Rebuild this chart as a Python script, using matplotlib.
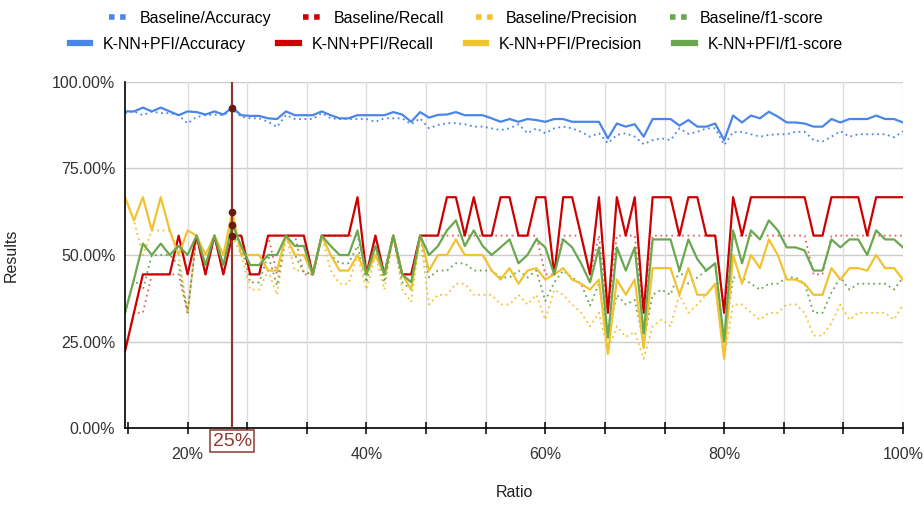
import numpy as np
import matplotlib
matplotlib.use("Agg")
import matplotlib.pyplot as plt
from matplotlib.lines import Line2D
from matplotlib.transforms import blended_transform_factory

plt.rcParams['font.family'] = ['Liberation Sans', 'DejaVu Sans']

# ratio (%) of the x axis
ratio = list(range(13, 101))

# K-NN+PFI results (%)
knn_accuracy = [91.5, 91.5, 92.6, 91.5, 92.6, 91.5, 90.4, 91.5, 91.3, 90.6, 91.5, 90.6, 92.6, 90.4, 90.2,
                90.2, 89.5, 89.3, 91.5, 90.4, 90.4, 90.4, 91.5, 90.4, 89.5, 89.5, 90.4, 90.4, 90.4,
                90.4, 91.3, 90.6, 88.5, 91.3, 89.7, 90.5, 90.6, 91.3, 90.4, 90.4, 90.4, 89.5, 88.5, 89.3,
                88.5, 89.3, 89.0, 88.5, 89.3, 89.3, 88.5, 88.5, 88.5, 88.5, 83.7, 88.0, 87.1, 87.8, 84.2,
                89.3, 89.3, 89.3, 87.4, 89.0, 87.1, 87.1, 88.0, 83.2, 90.3, 88.3, 90.3, 89.5, 91.4,
                90.0, 88.3, 88.3, 88.0, 87.1, 87.1, 89.3, 88.3, 89.3, 89.3, 89.3, 90.3, 89.3, 89.3, 88.3]
knn_recall = [22.2, 33.3, 44.4, 44.4, 44.4, 44.4, 55.6, 44.4, 55.6, 44.4, 55.6, 44.4, 55.6, 55.6, 44.4,
              44.4, 55.6, 55.6, 55.6, 55.6, 55.6, 44.4, 55.6, 55.6, 55.6, 55.6, 66.7, 44.4, 55.6,
              44.4, 55.6, 44.4, 44.4, 55.6, 55.6, 55.6, 66.7, 66.7, 55.6, 66.7, 55.6, 55.6, 66.7, 66.7,
              55.6, 55.6, 66.7, 66.7, 44.4, 66.7, 66.7, 55.6, 44.4, 66.7, 33.3, 66.7, 55.6, 66.7, 33.3,
              66.7, 66.7, 66.7, 55.6, 66.7, 66.7, 55.6, 55.6, 33.3, 66.7, 55.6, 66.7, 66.7, 66.7,
              66.7, 66.7, 66.7, 66.7, 55.6, 55.6, 66.7, 66.7, 66.7, 66.7, 55.6, 66.7, 66.7, 66.7, 66.7]
knn_precision = [66.7, 60.0, 66.7, 57.1, 66.7, 57.1, 50.0, 57.1, 55.6, 50.0, 55.6, 50.0, 62.5, 50.0, 50.0,
                 50.0, 45.5, 45.5, 55.6, 50.0, 50.0, 44.4, 55.6, 50.0, 45.5, 45.5, 50.0, 44.4, 50.0,
                 44.4, 55.6, 44.4, 40.0, 55.6, 45.5, 50.0, 50.0, 54.5, 50.0, 50.0, 50.0, 45.5, 42.9, 46.2,
                 41.7, 45.5, 46.2, 42.9, 44.4, 46.2, 42.9, 41.7, 40.0, 42.9, 21.4, 42.9, 38.5, 42.9, 23.1,
                 46.2, 46.2, 46.2, 38.5, 46.2, 38.5, 38.5, 41.7, 20.0, 50.0, 41.7, 50.0, 46.2, 54.5,
                 50.0, 42.9, 42.9, 41.7, 38.5, 38.5, 46.2, 42.9, 46.2, 46.2, 45.5, 50.0, 46.2, 46.2, 42.9]
knn_f1 = [33.3, 42.9, 53.3, 50.0, 53.3, 50.0, 52.6, 50.0, 55.6, 47.1, 55.6, 47.1, 58.8, 52.6, 47.1,
          47.1, 50.0, 50.0, 55.6, 52.6, 52.6, 44.4, 55.6, 52.6, 50.0, 50.0, 57.1, 44.4, 52.6,
          44.4, 55.6, 44.4, 42.1, 55.6, 50.0, 52.6, 57.1, 60.0, 52.6, 57.1, 52.6, 50.0, 52.2, 54.5,
          47.6, 50.0, 54.5, 52.2, 44.4, 54.5, 52.2, 47.6, 42.1, 52.2, 26.1, 52.2, 45.5, 52.2, 27.3,
          54.5, 54.5, 54.5, 45.5, 54.5, 48.8, 45.5, 47.6, 25.0, 57.1, 47.6, 57.1, 54.5, 60.0,
          57.1, 52.2, 52.2, 51.3, 45.5, 45.5, 54.5, 52.2, 54.5, 54.5, 50.0, 57.1, 54.5, 54.5, 52.2]

# Baseline results (%)
base_accuracy = [91.0, 91.5, 90.4, 91.5, 91.0, 91.0, 90.4, 88.0, 89.9, 90.4, 90.6, 90.4, 92.0, 90.0, 89.5,
                 89.5, 88.5, 87.0, 90.5, 89.3, 89.3, 89.3, 91.0, 89.5, 89.3, 89.3, 89.3, 89.3, 88.5,
                 89.5, 89.5, 89.5, 87.8, 89.5, 86.6, 87.6, 88.1, 88.1, 87.8, 87.1, 87.1, 86.6, 86.1, 86.6,
                 87.8, 85.2, 86.6, 85.2, 86.6, 87.1, 86.6, 85.6, 84.2, 85.2, 82.3, 84.7, 85.2, 84.2, 82.0,
                 83.2, 83.7, 83.2, 86.6, 85.0, 85.6, 86.6, 86.6, 81.8, 85.5, 85.6, 84.9, 84.2, 84.7,
                 84.9, 84.9, 85.6, 85.6, 83.2, 82.8, 84.2, 85.8, 84.2, 84.9, 84.9, 84.9, 84.9, 84.0, 85.8]
base_recall = [22.2, 33.3, 33.3, 44.4, 44.4, 44.4, 44.4, 33.3, 55.6, 44.4, 55.6, 44.4, 55.6, 55.6, 44.4,
               44.4, 55.6, 44.4, 55.6, 55.6, 44.4, 44.4, 55.6, 55.6, 55.6, 55.6, 55.6, 44.4, 55.6,
               44.4, 55.6, 44.4, 44.4, 55.6, 55.6, 55.6, 55.6, 55.6, 55.6, 55.6, 55.6, 55.6, 55.6, 55.6,
               55.6, 55.6, 55.6, 44.4, 44.4, 55.6, 55.6, 55.6, 44.4, 55.6, 33.3, 55.6, 55.6, 55.6, 33.3,
               55.6, 55.6, 55.6, 55.6, 55.6, 55.6, 55.6, 55.6, 33.3, 55.6, 55.6, 55.6, 55.6, 55.6,
               55.6, 55.6, 55.6, 55.6, 44.4, 44.4, 55.6, 55.6, 55.6, 55.6, 55.6, 55.6, 55.6, 55.6, 55.6]
base_precision = [66.7, 60.0, 50.0, 57.1, 57.1, 57.1, 50.0, 33.3, 55.6, 50.0, 55.6, 50.0, 55.6, 50.0, 40.0,
                  40.0, 45.5, 38.5, 55.6, 45.5, 45.5, 44.4, 55.6, 45.5, 41.7, 41.7, 50.0, 40.0, 50.0,
                  40.0, 55.6, 40.0, 36.4, 55.6, 35.7, 38.5, 38.5, 41.7, 41.7, 38.5, 38.5, 38.5, 35.7, 35.7,
                  38.5, 35.7, 38.5, 31.3, 40.0, 38.5, 35.7, 33.3, 29.4, 33.3, 22.2, 29.4, 26.3, 27.8, 20.0,
                  29.4, 31.3, 29.4, 38.5, 33.3, 35.7, 38.5, 41.7, 20.0, 35.7, 35.7, 33.3, 31.3, 33.3,
                  33.3, 35.7, 35.7, 33.3, 26.7, 26.7, 30.3, 35.7, 31.3, 33.3, 33.3, 33.3, 33.3, 31.3, 35.7]
base_f1 = [33.3, 42.9, 40.0, 50.0, 50.0, 50.0, 47.1, 33.3, 55.6, 47.1, 55.6, 47.1, 55.6, 52.6, 42.1,
           42.1, 50.0, 41.2, 55.6, 50.0, 45.0, 44.4, 55.6, 50.0, 47.6, 47.6, 52.6, 42.1, 52.6,
           42.1, 55.6, 42.1, 40.0, 55.6, 43.5, 45.5, 45.5, 47.6, 47.6, 45.5, 45.5, 45.5, 43.5, 43.5,
           45.5, 43.5, 45.5, 36.7, 42.1, 45.5, 43.5, 41.7, 35.4, 41.7, 26.7, 38.5, 35.7, 37.0, 25.0,
           38.5, 40.0, 38.5, 45.5, 41.7, 43.5, 45.5, 47.6, 25.0, 43.5, 43.5, 41.7, 40.0, 41.7,
           41.7, 43.5, 43.5, 41.7, 33.3, 33.3, 39.2, 43.5, 40.0, 41.7, 41.7, 41.7, 41.7, 40.0, 43.5]

marker_ratio = 25

BLUE = "#4a86e8"
RED = "#cc0000"
RED_LIGHT = "#e06666"
YELLOW = "#f1c232"
GREEN = "#6aa84f"
BROWN = "#8c3b32"
DOTS = (0, (1, 2))
FS = 11.5

fig = plt.figure(figsize=(9.24, 5.05), dpi=100)
ax = fig.add_axes([125/924, 77/505, 778/924, 346/505])

# baseline (dotted) first, K-NN (solid) on top
ax.plot(ratio, base_accuracy, color=BLUE, lw=1.3, ls=DOTS)
ax.plot(ratio, base_recall, color=RED_LIGHT, lw=1.3, ls=DOTS)
ax.plot(ratio, base_precision, color=YELLOW, lw=1.3, ls=DOTS)
ax.plot(ratio, base_f1, color=GREEN, lw=1.3, ls=DOTS)
ax.plot(ratio, knn_accuracy, color=BLUE, lw=1.6)
ax.plot(ratio, knn_recall, color=RED, lw=1.6)
ax.plot(ratio, knn_precision, color=YELLOW, lw=1.6)
ax.plot(ratio, knn_f1, color=GREEN, lw=1.6)

# vertical marker at 25%
i25 = ratio.index(marker_ratio)
ax.axvline(marker_ratio, color=BROWN, lw=1.6, zorder=5)
ax.plot([marker_ratio] * 4,
        [knn_accuracy[i25], knn_precision[i25], knn_f1[i25], knn_recall[i25]],
        'o', color="#6b1a10", ms=4.5, zorder=6)
trans = blended_transform_factory(ax.transData, ax.transAxes)
ax.text(marker_ratio, -0.038, f"{marker_ratio}%", transform=trans, ha='center', va='center',
        fontsize=14, color=BROWN, clip_on=False, zorder=7,
        bbox=dict(boxstyle='square,pad=0.12', fc='white', ec=BROWN, lw=1.1))

# axes
ax.set_xlim(13, 100)
ax.set_ylim(0, 100)
ax.set_xticks([20, 40, 60, 80, 100])
ax.set_xticklabels(["20%", "40%", "60%", "80%", "100%"])
minor = [13.33 + 6.667 * k for k in range(14)]
ax.set_xticks([m for m in minor if round(m) % 20 != 0 and m <= 100.1], minor=True)
ax.set_yticks([0, 25, 50, 75, 100])
ax.set_yticklabels(["0.00%", "25.00%", "50.00%", "75.00%", "100.00%"])
ax.tick_params(axis='x', which='both', direction='inout', length=9, width=1.1, pad=9,
               labelsize=FS, labelcolor="#333333")
ax.tick_params(axis='y', length=0, pad=7, labelsize=FS, labelcolor="#333333")

for v in [25, 50, 75, 100]:
    ax.axhline(v, color="#cccccc", lw=1.0, zorder=0)
for m in minor:
    if 13.5 < m <= 100.1:
        ax.axvline(m, color="#dddddd", lw=1.0, zorder=0)

for s in ['top', 'right']:
    ax.spines[s].set_visible(False)
ax.spines['left'].set_color('black')
ax.spines['bottom'].set_color('black')
ax.spines['left'].set_linewidth(1.2)
ax.spines['bottom'].set_linewidth(1.2)

ax.set_xlabel("Ratio", fontsize=FS, color="#222222", labelpad=17)
ax.set_ylabel("Results", fontsize=FS, color="#222222", labelpad=24)

# legend, two centred rows
row1 = [Line2D([], [], color=BLUE, lw=4, ls=(0, (1, 1))),
        Line2D([], [], color=RED, lw=4, ls=(0, (1, 1))),
        Line2D([], [], color=YELLOW, lw=4, ls=(0, (1, 1))),
        Line2D([], [], color=GREEN, lw=4, ls=(0, (1, 1)))]
row2 = [Line2D([], [], color=BLUE, lw=4.5),
        Line2D([], [], color=RED, lw=4.5),
        Line2D([], [], color=YELLOW, lw=4.5),
        Line2D([], [], color=GREEN, lw=4.5)]
labels1 = ["Baseline/Accuracy", "Baseline/Recall", "Baseline/Precision", "Baseline/f1-score"]
labels2 = ["K-NN+PFI/Accuracy", "K-NN+PFI/Recall", "K-NN+PFI/Precision", "K-NN+PFI/f1-score"]
fig.legend(row1, labels1, loc='center', bbox_to_anchor=(0.505, 0.964), ncol=4,
           frameon=False, fontsize=FS, handlelength=1.1, columnspacing=2.0,
           handletextpad=0.8)
fig.legend(row2, labels2, loc='center', bbox_to_anchor=(0.494, 0.912), ncol=4,
           frameon=False, fontsize=FS, handlelength=1.3, columnspacing=2.0,
           handletextpad=0.8)

fig.savefig("out.png", dpi=100)
